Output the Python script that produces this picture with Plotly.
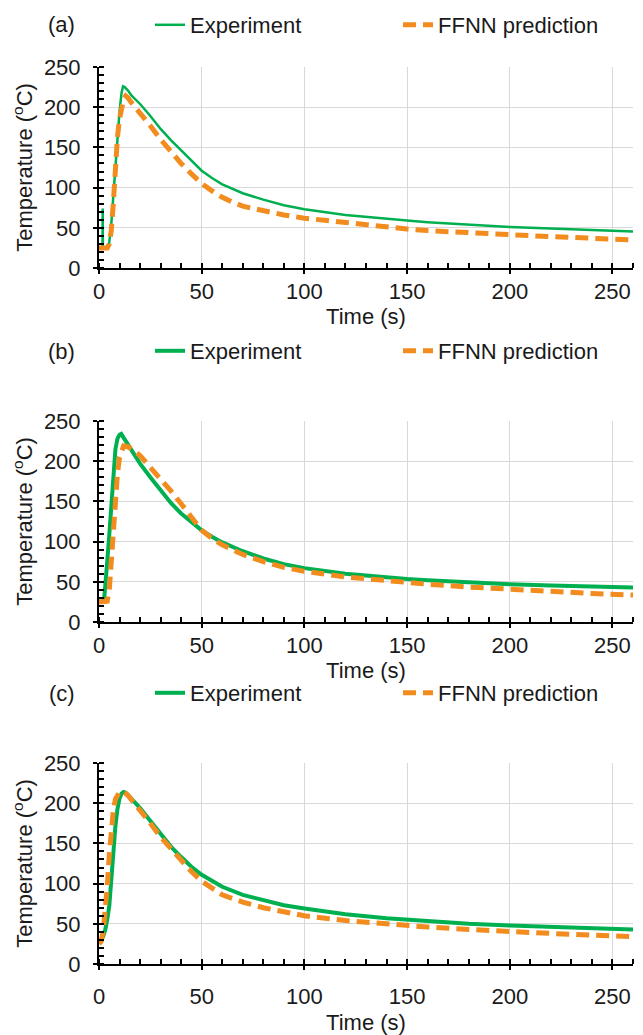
import plotly.graph_objects as go

# ---------------- data ----------------
# Panel (a)
t_exp_a = [0, 1.7, 1.8, 1.9, 4.5, 5, 6, 7, 8, 9, 10, 11, 11.7, 12.5, 14, 16, 20, 25, 30, 35, 40, 45, 50,
           55, 60, 70, 80, 90, 100, 120, 140, 150, 160, 180, 200, 220, 240, 260]
T_exp_a = [25, 25, 74, 25, 26, 32, 55, 90, 130, 165, 195, 218, 226, 225, 221, 214, 204, 189, 173, 159, 146, 133, 121,
           112, 104, 93, 85, 78, 73, 66, 61, 59, 57, 54, 51, 49, 47, 45.5]
t_pred_a = [0, 4, 5, 6, 7, 8, 9, 10, 11, 12, 13, 14, 16, 20, 25, 30, 35, 40, 45, 50, 55, 60, 65, 70, 75,
            80, 90, 100, 120, 140, 150, 160, 180, 200, 220, 240, 260]
T_pred_a = [25, 25, 30, 47, 82, 128, 163, 186, 201, 210, 214, 212, 205, 193, 177, 160, 144, 130, 117, 105, 96, 88, 82, 77, 74,
            71, 66, 62, 56, 51, 48.5, 46.5, 43.5, 41, 39, 37, 35]

# Panel (b)
t_exp_b = [0, 2, 2.5, 3, 4, 5, 6, 7, 8, 9, 10, 10.8, 12, 14, 16, 20, 25, 30, 35, 40, 45, 50, 55, 60,
           70, 80, 90, 100, 120, 140, 150, 160, 180, 200, 220, 240, 260]
T_exp_b = [25, 26, 28, 40, 75, 108, 148, 190, 215, 228, 233, 234, 229, 220, 212, 197, 180, 163, 148, 135, 124, 114, 106, 99,
           88, 79, 72, 67, 60, 55, 53.5, 52, 49, 47, 45.5, 44, 43]
t_pred_b = [0, 4, 5, 6, 7, 8, 9, 10, 11, 12, 14, 16, 20, 25, 30, 35, 40, 45, 50, 55, 60, 70, 80, 90, 100,
            120, 140, 150, 160, 180, 200, 220, 240, 260]
T_pred_b = [25, 26, 40, 80, 120, 155, 185, 205, 215, 219, 218, 215, 207, 193, 178, 163, 147, 130, 114, 104, 96, 84, 75, 68, 63,
            56, 51, 49, 47, 43.5, 40.5, 38, 35.5, 33.5]

# Panel (c)
t_exp_c = [0, 1, 2, 3, 4, 5, 6, 7, 8, 9, 10, 11, 12, 13, 14, 16, 20, 25, 30, 35, 40, 45, 50, 55, 60,
           70, 80, 90, 100, 120, 140, 150, 160, 180, 200, 220, 240, 260]
T_exp_c = [28, 30, 34, 42, 55, 72, 105, 142, 172, 193, 206, 212, 214, 213, 210, 205, 194, 178, 161, 146, 133, 121, 111, 103, 96,
           86, 79, 73, 69, 62, 57, 55, 53, 50, 48, 46, 44.5, 43]
t_pred_c = [0, 1, 2, 3, 4, 5, 6, 7, 8, 9, 10, 11, 12, 14, 16, 20, 25, 30, 35, 40, 45, 50, 55, 60, 70,
            80, 90, 100, 120, 140, 150, 160, 180, 200, 220, 240, 260]
T_pred_c = [25, 28, 40, 62, 95, 135, 170, 192, 205, 211, 214, 215, 214, 210, 204, 191, 175, 158, 143, 129, 115, 103, 94, 86, 77,
            70, 65, 60, 54, 49.5, 47.5, 46, 43, 40, 38, 36, 34]

panel_labels = ["(a)", "(b)", "(c)"]
series_names = ["Experiment", "FFNN prediction"]
x_title = "Time (s)"
y_title = "Temperature (<sup>o</sup>C)"
x_range = [0, 260]
y_range = [0, 250]

# ---------------- style ----------------
W, H = 643, 1035
GREEN = "#00B050"
ORANGE = "#F28C1E"
FONT = "Liberation Sans, Arial, sans-serif"
TXT = "#1a1a1a"
FS = 22

x_left, x_right = 99, 633
panels_px = [(67, 268), (421, 622), (763, 964)]   # (top, bottom) of each plot area
legend_y_px = [25, 351, 693]
legend_x_px = [150, 398]
green_w = [2.5, 4, 4]
xlab_standoff = [-1, -1, 8]
xtitle_standoff = [0, 0, 14]

data = [
    (t_exp_a, T_exp_a, t_pred_a, T_pred_a),
    (t_exp_b, T_exp_b, t_pred_b, T_pred_b),
    (t_exp_c, T_exp_c, t_pred_c, T_pred_c),
]

fig = go.Figure()
annotations = []
layout_kw = {}
for i, (te, Te, tp, Tp) in enumerate(data):
    n = "" if i == 0 else str(i + 1)
    lg1 = "legend" if i == 0 else "legend" + str(2 * i + 1)
    lg2 = "legend" + str(2 * i + 2)
    fig.add_trace(go.Scatter(x=te, y=Te, mode="lines", name=series_names[0],
                             line=dict(color=GREEN, width=green_w[i]), showlegend=True,
                             xaxis="x" + n, yaxis="y" + n, legend=lg1))
    fig.add_trace(go.Scatter(x=tp, y=Tp, mode="lines", name=series_names[1],
                             line=dict(color=ORANGE, width=5, dash="13px,7px"), showlegend=True,
                             xaxis="x" + n, yaxis="y" + n, legend=lg2))
    top, bot = panels_px[i]
    common = dict(showline=True, linecolor="black", linewidth=2, automargin=False,
                  showgrid=True, gridcolor="#d9d9d9", gridwidth=1.3,
                  zeroline=False, ticks="outside", ticklen=4, tickwidth=2, tickcolor="black",
                  tickfont=dict(family=FONT, size=FS, color=TXT),
                  minor=dict(ticks="inside", ticklen=5, tickwidth=1.5, tickcolor="black", dtick=10,
                             showgrid=False))
    layout_kw["xaxis" + n] = dict(common, domain=[x_left / W, x_right / W], range=x_range,
                                  dtick=50, tick0=0, anchor="y" + n,
                                  ticklabelstandoff=xlab_standoff[i],
                                  title=dict(text=x_title, font=dict(family=FONT, size=FS, color=TXT),
                                             standoff=xtitle_standoff[i]))
    layout_kw["yaxis" + n] = dict(common, domain=[1 - bot / H, 1 - top / H], range=y_range,
                                  dtick=50, tick0=0, anchor="x" + n, ticklabelstandoff=8,
                                  title=dict(text=y_title, font=dict(family=FONT, size=FS, color=TXT),
                                             standoff=5))
    # inner halves of the major ticks (ticks crossing the axis line)
    k = str(4 + i)
    inner = dict(showline=False, showgrid=False, zeroline=False, showticklabels=False,
                 ticks="inside", ticklen=5, tickwidth=2, tickcolor="black", dtick=50, tick0=0,
                 automargin=False)
    layout_kw["xaxis" + k] = dict(inner, overlaying="x" + n, anchor="y" + n, range=x_range,
                                  side="bottom", domain=[x_left / W, x_right / W])
    layout_kw["yaxis" + k] = dict(inner, overlaying="y" + n, anchor="x" + n, range=y_range,
                                  side="left", domain=[1 - bot / H, 1 - top / H])
    for lg, lx in zip((lg1, lg2), legend_x_px):
        layout_kw[lg] = dict(x=lx / W, y=1 - legend_y_px[i] / H, xanchor="left", yanchor="middle",
                             orientation="h", bgcolor="rgba(0,0,0,0)", visible=True,
                             font=dict(family=FONT, size=FS, color=TXT))
    annotations.append(dict(text=panel_labels[i], x=62 / W, y=1 - legend_y_px[i] / H,
                            xref="paper", yref="paper", showarrow=False,
                            xanchor="center", yanchor="middle",
                            font=dict(family=FONT, size=FS, color=TXT)))

fig.update_layout(width=W, height=H, margin=dict(l=0, r=0, t=0, b=0),
                  paper_bgcolor="white", plot_bgcolor="white", showlegend=True,
                  annotations=annotations, **layout_kw)

fig.write_html("out.html")
